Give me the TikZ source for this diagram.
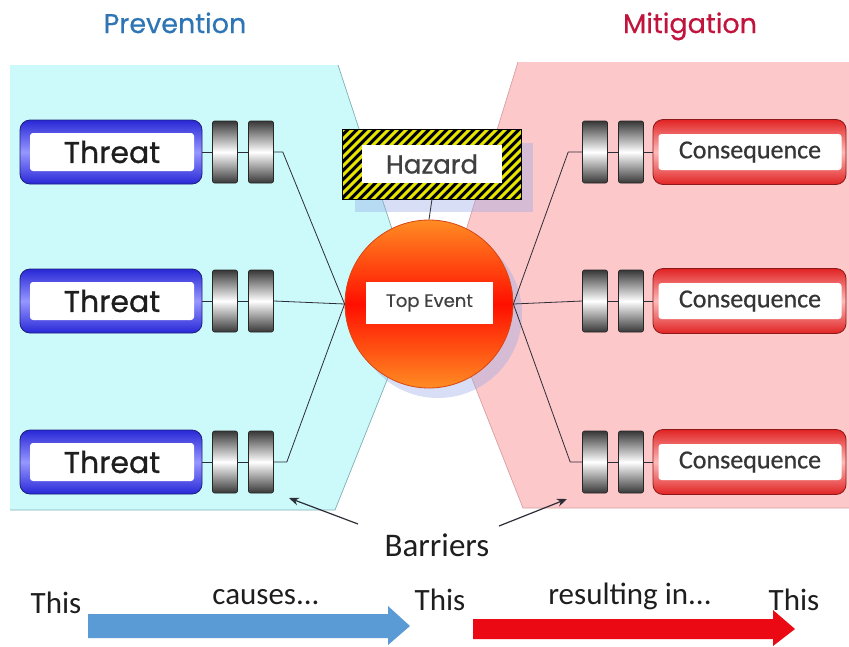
\documentclass[tikz,border=0pt]{standalone}
\usepackage{fontspec}
\newfontfamily\gothic{Poppins}[FakeBold=0.9]
\newfontfamily\gothict{Poppins}[FakeBold=0.5]
\newfontfamily\carl{Carlito}
\newfontfamily\carlb{Carlito}[FakeBold=0.6]
\usetikzlibrary{arrows.meta}
\definecolor{cyanbg}{RGB}{204,250,251}
\definecolor{cyanedge}{RGB}{130,175,178}
\definecolor{pinkbg}{RGB}{253,200,202}
\definecolor{pinkedge}{RGB}{215,160,162}
\definecolor{prevc}{RGB}{46,117,182}
\definecolor{mitc}{RGB}{192,20,60}
\definecolor{tblue}{RGB}{40,40,215}
\definecolor{tlight}{RGB}{150,150,255}
\definecolor{tedge}{RGB}{30,30,120}
\definecolor{cred}{RGB}{225,35,35}
\definecolor{clight}{RGB}{255,185,185}
\definecolor{cedge}{RGB}{140,25,25}
\definecolor{barr}{RGB}{55,55,55}
\definecolor{orng}{RGB}{255,140,35}
\definecolor{redc}{RGB}{255,15,0}
\definecolor{cedgeo}{RGB}{215,70,20}
\definecolor{shadc}{RGB}{150,170,230}
\definecolor{hazy}{RGB}{230,230,0}
\definecolor{linec}{RGB}{45,45,55}
\definecolor{arrblue}{RGB}{91,155,213}
\definecolor{arrred}{RGB}{235,10,20}
\definecolor{txt}{RGB}{30,30,30}
\begin{document}
\begin{tikzpicture}[x=1pt,y=-1pt,
  conn/.style={draw=linec, line width=0.8pt},
  titletext/.style={anchor=base, font=\gothict\fontsize{27}{30}\selectfont},
  threatout/.style={rounded corners=10pt, draw=tedge, line width=0.8pt,
    minimum width=182pt, minimum height=64pt, inner sep=0pt,
    top color=tblue, bottom color=tblue, middle color=tlight},
  threatin/.style={fill=white, rounded corners=3pt, minimum width=164pt,
    minimum height=38pt, inner sep=0pt, text=txt,
    font=\gothic\fontsize{30}{32}\selectfont},
  consout/.style={rounded corners=10pt, draw=cedge, line width=0.8pt,
    minimum width=193pt, minimum height=65pt, inner sep=0pt,
    top color=cred, bottom color=cred, middle color=clight},
  consin/.style={fill=white, rounded corners=3pt, minimum width=183pt,
    minimum height=36pt, inner sep=0pt, text=txt!90,
    font=\carlb\fontsize{26}{28}\selectfont},
  barrier/.style={draw=black!85, line width=0.6pt, rounded corners=2pt,
    minimum width=25pt, minimum height=62pt, inner sep=0pt,
    top color=barr, bottom color=barr, middle color=white},
  bottomtext/.style={anchor=base, text=txt, font=\carl\fontsize{31}{33}\selectfont},
  barrarrow/.style={draw=linec, line width=1.2pt, -{Stealth[length=10pt,width=8pt]}}
]
\useasboundingbox (0,0) rectangle (849,646);
\fill[white] (0,0) rectangle (849,646);

% background zones
\fill[cyanbg] (10,65) -- (338,65) -- (417,305) -- (335,510) -- (10,510) -- cycle;
\draw[cyanedge, line width=0.7pt] (338,65) -- (417,305) -- (335,510) -- (10,510);
\fill[pinkbg] (518,62) -- (849,62) -- (849,508) -- (523,508) -- (443,305) -- cycle;
\draw[pinkedge, line width=0.7pt] (518,62) -- (443,305) -- (523,508) -- (849,508);

% titles
\node[titletext, text=prevc] (prev) at (175,33) {Prevention};
\node[titletext, text=mitc] (mitg) at (690,33) {Mitigation};

% shadows
\fill[shadc, opacity=0.38] (438,314) circle[radius=84];
\fill[shadc, opacity=0.38] (355,143) rectangle (533,212);

% hazard
\node[fill=black, minimum width=178pt, minimum height=69pt, inner sep=0pt] (hz) at (432,164.5) {};
\begin{scope}
  \clip (hz.south west) rectangle (hz.north east);
  \foreach \x in {250,259,...,530} \draw[hazy, line width=2.9pt] (\x,205) -- ++(80,-80);
\end{scope}
\draw[black, line width=1pt] (hz.south west) rectangle (hz.north east);
\node[fill=white, minimum width=140pt, minimum height=38pt, inner sep=0pt,
  text=txt!85, font=\gothic\fontsize{26}{28}\selectfont] (hzi) at (432,164) {Hazard};

% top event
\node[circle, minimum size=168pt, inner sep=0pt, draw=cedgeo, line width=0.8pt,
  top color=orng, bottom color=orng, middle color=redc] (te) at (429,304) {};
\node[fill=white, minimum width=127pt, minimum height=42pt, inner sep=0pt,
  text=txt!85, font=\gothict\fontsize{18}{20}\selectfont] (teb) at (429.5,303) {Top Event};

% threats and consequences
\foreach \r/\y in {1/152,2/301,3/462}{
  \node[threatout] (t\r) at (111,\y) {};
  \node[threatin] (ti\r) at (112,\y) {Threat};
  \node[barrier] (b\r a) at (225,\y) {};
  \node[barrier] (b\r b) at (261,\y) {};
  \node[consout] (c\r) at (749.5,\y) {};
  \node[consin] (ci\r) at (750,\y) {Consequence};
  \node[barrier] (d\r a) at (631,\y) {};
  \node[barrier] (d\r b) at (595,\y) {};
}

% connectors
\foreach \r in {1,2,3}{
  \draw[conn] (t\r.east) -- (b\r a.west);
  \draw[conn] (b\r a.east) -- (b\r b.west);
  \draw[conn] (c\r.west) -- (d\r a.east);
  \draw[conn] (d\r a.west) -- (d\r b.east);
}
\draw[conn] (b1b.east) -- ++(9,0) -- (te.west);
\draw[conn] (b2b.east) -- (te.west);
\draw[conn] (b3b.east) -- ++(13,0) -- (te.west);
\draw[conn] (d1b.west) -- ++(-14,0) -- (te.east);
\draw[conn] (d2b.west) -- (te.east);
\draw[conn] (d3b.west) -- ++(-12,0) -- (te.east);
\draw[conn] (hz.south) -- (te.north);

% barriers label
\node[anchor=base, text=txt, font=\carl\fontsize{33}{35}\selectfont] (bar) at (437,556) {Barriers};
\coordinate (blt) at (358,524);
\coordinate (blh) at (289,498);
\coordinate (brt) at (499,526);
\coordinate (brh) at (567,499);
\draw[barrarrow] (blt) -- (blh);
\draw[barrarrow] (brt) -- (brh);

% bottom legend
\node[bottomtext] (th1) at (56,613) {This};
\node[bottomtext] (cau) at (266,604) {causes...};
\node[bottomtext] (th2) at (440,610) {This};
\node[bottomtext] (res) at (630,604) {resulting in...};
\node[bottomtext] (th3) at (794,610) {This};
\fill[arrblue] (88,614) -- (388,614) -- (388,606) -- (410,626) -- (388,645) -- (388,638) -- (88,638) -- cycle;
\fill[arrred] (473,619) -- (773,619) -- (773,610) -- (795,629) -- (773,646) -- (773,639) -- (473,639) -- cycle;
\end{tikzpicture}
\end{document}
